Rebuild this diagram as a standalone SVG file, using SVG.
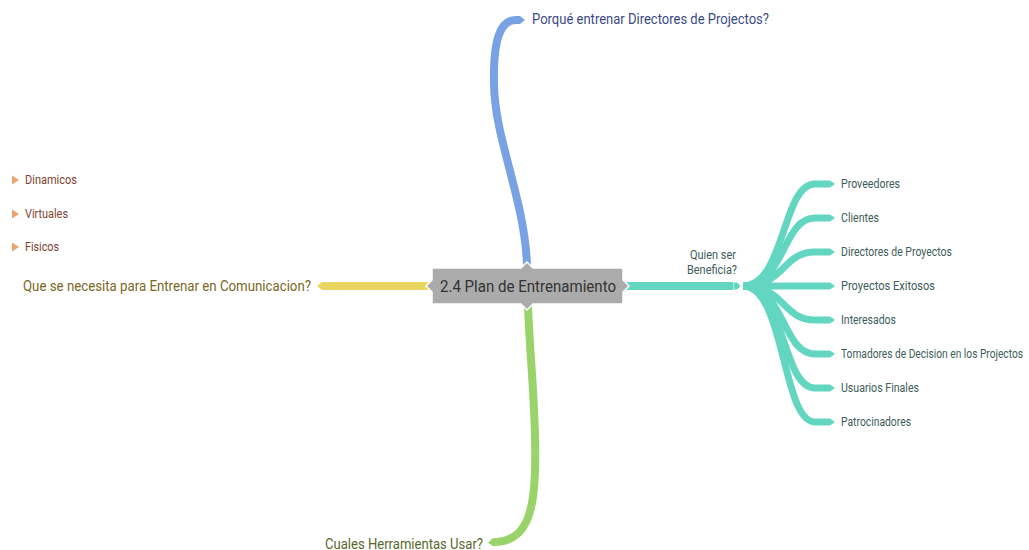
<svg xmlns="http://www.w3.org/2000/svg" width="1029" height="550" viewBox="0 0 1029 550">
  <style>
    .br { fill: none; stroke-linecap: butt; stroke-linejoin: round; }
    .t { font-family: Roboto, "Liberation Sans", sans-serif; }
    .lbl { font-size: 14px; }
    .sub { font-size: 12px; fill: #3d5c5a; }
    .left { font-size: 12px; fill: #7f3f2c; }
  </style>
  <defs>
    <marker id="tipBlue" viewBox="0 -4 9 8" refX="0" refY="0" markerWidth="9" markerHeight="8" markerUnits="userSpaceOnUse" orient="auto">
      <path d="M0,-4 L4,-4 L9,0 L4,4 L0,4 Z" fill="#78a2e3"/>
    </marker>
    <marker id="tipGreen" viewBox="0 -4 9 8" refX="0" refY="0" markerWidth="9" markerHeight="8" markerUnits="userSpaceOnUse" orient="auto">
      <path d="M0,-4 L4,-4 L9,0 L4,4 L0,4 Z" fill="#99d36a"/>
    </marker>
    <marker id="tipYellow" viewBox="0 -4 9 8" refX="0" refY="0" markerWidth="9" markerHeight="8" markerUnits="userSpaceOnUse" orient="auto">
      <path d="M0,-4 L4,-4 L9,0 L4,4 L0,4 Z" fill="#e9d660"/>
    </marker>
    <marker id="tipTeal" viewBox="0 -5 10 10" refX="0" refY="0" markerWidth="10" markerHeight="10" markerUnits="userSpaceOnUse" orient="auto">
      <path d="M0,-4 L4,-4 L8,0 L4,4 L0,4 Z" fill="#62d6c0" stroke="#ffffff" stroke-width="1"/>
    </marker>
    <marker id="tipFan" viewBox="0 -4 9 8" refX="0" refY="0" markerWidth="9" markerHeight="8" markerUnits="userSpaceOnUse" orient="auto">
      <path d="M0,-3.5 L4,-3.5 L9,0 L4,3.5 L0,3.5 Z" fill="#62d6c0"/>
    </marker>
    <path id="bullet" d="M0,-4.5 L7,0 L0,4.5 Z" fill="#eaa56a"/>
  </defs>

  <!-- connectors -->
  <g id="connectors">
    <!-- fan of beneficiaries -->
    <g id="fan" class="br" stroke="#62d6c0" stroke-width="7">
      <path d="M743,286 C 785,286 782,184 815,184 L826,184" marker-end="url(#tipFan)"/>
      <path d="M743,286 C 785,286 782,218 815,218 L826,218" marker-end="url(#tipFan)"/>
      <path d="M743,286 C 785,286 782,252 815,252 L826,252" marker-end="url(#tipFan)"/>
      <path d="M743,286 L826,286" marker-end="url(#tipFan)"/>
      <path d="M743,286 C 785,286 782,320 815,320 L826,320" marker-end="url(#tipFan)"/>
      <path d="M743,286 C 785,286 782,354 815,354 L826,354" marker-end="url(#tipFan)"/>
      <path d="M743,286 C 785,286 782,388 815,388 L826,388" marker-end="url(#tipFan)"/>
      <path d="M743,286 C 785,286 782,422 815,422 L826,422" marker-end="url(#tipFan)"/>
    </g>
    <path id="edge-beneficia" class="br" d="M624,286 L733,286" stroke="#62d6c0" stroke-width="8" marker-end="url(#tipTeal)"/>
    <path id="edge-porque" class="br" d="M527,266 C 525,200 495,140 494,85 C 493,40 500,20 516,20" stroke="#78a2e3" stroke-width="8" marker-end="url(#tipBlue)"/>
    <path id="edge-cuales" class="br" d="M528,306 C 530,360 537,420 535,470 C 534,515 525,540 497,542" stroke="#99d36a" stroke-width="8" marker-end="url(#tipGreen)"/>
    <path id="edge-que" class="br" d="M432,286 L326,286" stroke="#e9d660" stroke-width="8" marker-end="url(#tipYellow)"/>
  </g>

  <!-- central topic -->
  <g id="node-plan">
    <path d="M434,268 L521,268 L527,262 L533,268 L621,268 Q623,268 623,270 L623,280 L629,286 L623,292 L623,302 Q623,304 621,304 L533,304 L527,310 L521,304 L434,304 Q432,304 432,302 L432,292 L426,286 L432,280 L432,270 Q432,268 434,268 Z" fill="#ababab" stroke="#ffffff" stroke-width="1.5"/>
    <text class="t" x="440" y="292" font-size="17" fill="#333333" textLength="176" lengthAdjust="spacingAndGlyphs">2.4 Plan de Entrenamiento</text>
  </g>

  <g id="node-porque">
    <text class="t lbl" x="532" y="24" fill="#3a4a86" textLength="237" lengthAdjust="spacingAndGlyphs">Porqué entrenar Directores de Projectos?</text>
  </g>

  <g id="node-cuales">
    <text class="t lbl" x="325" y="549" fill="#56662c" textLength="158" lengthAdjust="spacingAndGlyphs">Cuales Herramientas Usar?</text>
  </g>

  <g id="node-que">
    <text class="t lbl" x="23" y="291" fill="#7a6722" textLength="288" lengthAdjust="spacingAndGlyphs">Que se necesita para Entrenar en Comunicacion?</text>
  </g>

  <g id="node-dinamicos">
    <use href="#bullet" x="12" y="180"/>
    <text class="t left" x="25" y="184" textLength="52" lengthAdjust="spacingAndGlyphs">Dinamicos</text>
  </g>
  <g id="node-virtuales">
    <use href="#bullet" x="12" y="214"/>
    <text class="t left" x="25" y="218" textLength="43" lengthAdjust="spacingAndGlyphs">Virtuales</text>
  </g>
  <g id="node-fisicos">
    <use href="#bullet" x="12" y="247"/>
    <text class="t left" x="25" y="251" textLength="34" lengthAdjust="spacingAndGlyphs">Fisicos</text>
  </g>

  <g id="node-beneficia">
    <text class="t sub" x="690" y="259" textLength="46" lengthAdjust="spacingAndGlyphs">Quien ser</text>
    <text class="t sub" x="687" y="274" textLength="50" lengthAdjust="spacingAndGlyphs">Beneficia?</text>
  </g>

  <g id="node-proveedores"><text class="t sub" x="841" y="188" textLength="59" lengthAdjust="spacingAndGlyphs">Proveedores</text></g>
  <g id="node-clientes"><text class="t sub" x="841" y="222" textLength="38" lengthAdjust="spacingAndGlyphs">Clientes</text></g>
  <g id="node-directores"><text class="t sub" x="841" y="256" textLength="111" lengthAdjust="spacingAndGlyphs">Directores de Proyectos</text></g>
  <g id="node-exitosos"><text class="t sub" x="841" y="290" textLength="94" lengthAdjust="spacingAndGlyphs">Proyectos Exitosos</text></g>
  <g id="node-interesados"><text class="t sub" x="841" y="324" textLength="55" lengthAdjust="spacingAndGlyphs">Interesados</text></g>
  <g id="node-tomadores"><text class="t sub" x="841" y="358" textLength="182" lengthAdjust="spacingAndGlyphs">Tomadores de Decision en los Projectos</text></g>
  <g id="node-usuarios"><text class="t sub" x="841" y="392" textLength="78" lengthAdjust="spacingAndGlyphs">Usuarios Finales</text></g>
  <g id="node-patrocinadores"><text class="t sub" x="841" y="426" textLength="70" lengthAdjust="spacingAndGlyphs">Patrocinadores</text></g>
</svg>
